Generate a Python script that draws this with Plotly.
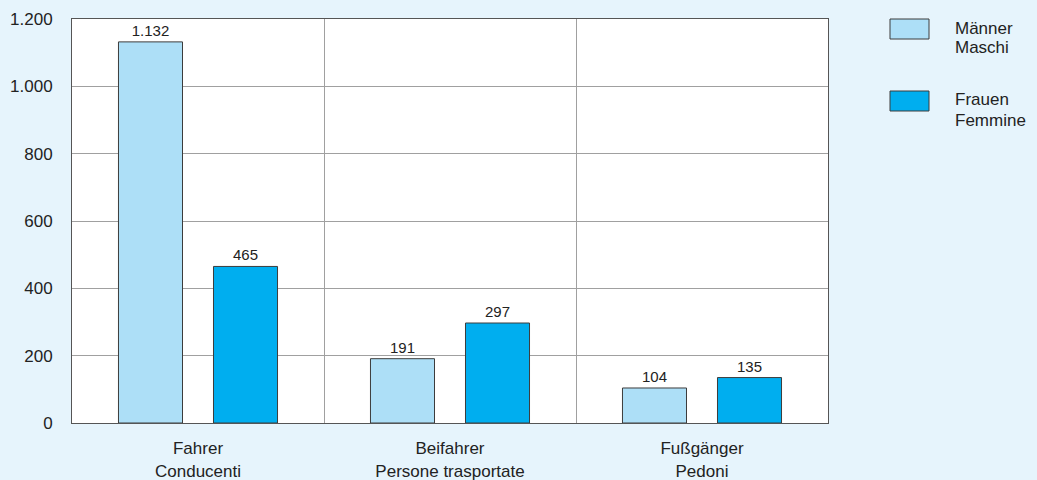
import plotly.graph_objects as go

categories = ["Fahrer<br>Conducenti", "Beifahrer<br>Persone trasportate", "Fußgänger<br>Pedoni"]
series_names = ["Männer<br>Maschi", "Frauen<br>Femmine"]
maenner = [1132, 191, 104]
frauen = [465, 297, 135]
y_ticks = [0, 200, 400, 600, 800, 1000, 1200]

colors = ["#ADDFF7", "#00AEEF"]
FONT = "Liberation Sans, Arial, sans-serif"
TXT = "#222222"

L, R, T, B = 72, 209, 19, 57
W, H = 1037, 480
pw, ph = W - L - R, H - T - B

fig = go.Figure()
for name, vals, col in zip(series_names, [maenner, frauen], colors):
    fig.add_trace(go.Bar(
        x=categories, y=vals, name=name,
        marker=dict(color=col, line=dict(color="#3C3C3C", width=1)),
        text=[f"{v:,}".replace(",", ".") for v in vals],
        textposition="outside",
        textfont=dict(family=FONT, size=15, color=TXT),
        cliponaxis=False,
        showlegend=False,
    ))

# custom legend (boxes + labels)
def px2x(px):
    return (px - L) / pw

def py2y(py):
    return (H - B - py) / ph

for i, (name, col) in enumerate(zip(series_names, colors)):
    top = 19 + i * 72
    fig.add_shape(type="rect", xref="paper", yref="paper",
                  x0=px2x(890), x1=px2x(929), y0=py2y(top + 20), y1=py2y(top),
                  fillcolor=col, line=dict(color="#3C3C3C", width=1))
    for j, line in enumerate(name.split("<br>")):
        fig.add_annotation(xref="paper", yref="paper", x=px2x(953), y=py2y(top + 9 + j * 20),
                           text=line, showarrow=False, xanchor="left", yanchor="middle",
                           align="left", font=dict(family=FONT, size=17, color=TXT))

fig.update_layout(
    width=W, height=H,
    margin=dict(l=L, r=R, t=T, b=B, autoexpand=False),
    paper_bgcolor="#E6F4FC",
    plot_bgcolor="#FFFFFF",
    barmode="group",
    bargap=0.246,
    bargroupgap=0.326,
    separators=",.",
    font=dict(family=FONT, size=17, color=TXT),
)
fig.update_xaxes(
    automargin=False,
    showline=True, mirror=True, linecolor="#555", linewidth=1,
    tickson="boundaries", showgrid=True, gridcolor="#A0A0A0", gridwidth=1,
    ticks="", ticklabelstandoff=10,
    tickfont=dict(family=FONT, size=17, color=TXT),
)
fig.update_yaxes(
    automargin=False,
    range=[0, 1200], tickvals=y_ticks, tickformat=",d",
    showline=True, mirror=True, linecolor="#555", linewidth=1,
    showgrid=True, gridcolor="#A0A0A0", gridwidth=1, zeroline=False,
    ticks="", ticklabelstandoff=15,
    tickfont=dict(family=FONT, size=17, color=TXT),
)

fig.write_html("out.html")
